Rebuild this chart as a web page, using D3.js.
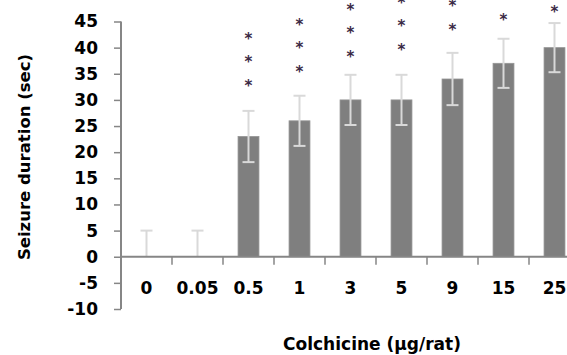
<!DOCTYPE html>
<html>
<head>
<meta charset="utf-8">
<script src="https://cdn.jsdelivr.net/npm/d3@7.9.0/dist/d3.min.js"></script>
<style>
  body { margin: 0; background: #fff; overflow: hidden; }
  svg { display: block; font-family: "DejaVu Sans", sans-serif; }
</style>
</head>
<body>
<div id="chart"></div>
<script>
// doses and mean seizure duration
const doses    = ['0', '0.05', '0.5', '1', '3', '5', '9', '15', '25'];
const means    = [0, 0, 23, 26, 30, 30, 34, 37, 40];
const errors   = [5, 5, 4.9, 4.8, 4.8, 4.8, 5, 4.7, 4.7];
const stars    = [0, 0, 3, 3, 3, 3, 2, 1, 1];
const starBase = [0, 0, 33.3, 36, 38.8, 40.2, 44, 45.8, 47.4]; // value of lowest asterisk
const starStep = 4.5;
const yTicks   = [-10, -5, 0, 5, 10, 15, 20, 25, 30, 35, 40, 45];

const W = 567, H = 355;
const svg = d3.select('#chart').append('svg')
  .attr('width', W).attr('height', H);

//--- scales
const x = d3.scaleBand()
  .domain(doses)
  .range([121, 580])
  .paddingInner(0.59)
  .paddingOuter(0.295);

const y = d3.scaleLinear()
  .domain([-10, 45])
  .range([309, 21.5]);

const axisCol = '#868686';

//--- bars
svg.append('g').selectAll('rect')
  .data(doses)
  .join('rect')
    .attr('x', d => x(d))
    .attr('width', x.bandwidth())
    .attr('y', (d, i) => y(means[i]))
    .attr('height', (d, i) => y(0) - y(means[i]))
    .attr('fill', '#7f7f7f')
    .attr('stroke', '#959595')
    .attr('stroke-width', 0.8);

//--- error bars (lower part hidden when bar is zero)
const eb = svg.append('g')
  .attr('stroke', '#d9d9d9')
  .attr('stroke-width', 2);
const cx = d => x(d) + x.bandwidth() / 2;
doses.forEach((d, i) => {
  const top = means[i] + errors[i];
  const bot = means[i] === 0 ? 0 : means[i] - errors[i];
  eb.append('line')
    .attr('x1', cx(d)).attr('x2', cx(d))
    .attr('y1', y(top)).attr('y2', y(bot));
  eb.append('line')
    .attr('x1', cx(d) - 6).attr('x2', cx(d) + 6)
    .attr('y1', y(top)).attr('y2', y(top));
  if (means[i] !== 0) {
    eb.append('line')
      .attr('x1', cx(d) - 6).attr('x2', cx(d) + 6)
      .attr('y1', y(bot)).attr('y2', y(bot));
  }
});

//--- significance asterisks
const starData = doses.flatMap((d, i) =>
  d3.range(stars[i]).map(k => ({ dose: d, v: starBase[i] + k * starStep })));
svg.append('g').selectAll('text')
  .data(starData)
  .join('text')
    .attr('x', d => cx(d.dose))
    .attr('y', d => y(d.v) + 8)
    .attr('text-anchor', 'middle')
    .attr('font-size', 15)
    .attr('font-weight', 'bold')
    .attr('fill', '#3a2a45')
    .text('*');

//--- axes
const yAxis = svg.append('g')
  .attr('transform', 'translate(121,0)')
  .call(d3.axisLeft(y).tickValues(yTicks).tickSize(7).tickPadding(16)
    .tickFormat(d => String(d)));
yAxis.select('.domain').attr('stroke', axisCol).attr('stroke-width', 2)
  .attr('d', `M0,${y(45)}V${y(-10)}`);
yAxis.selectAll('.tick line').attr('stroke', axisCol).attr('stroke-width', 1.5);
yAxis.selectAll('.tick text')
  .attr('font-size', 17).attr('font-weight', 'bold').attr('fill', '#000')
  .attr('font-family', '"DejaVu Sans", sans-serif');

const xAxis = svg.append('g')
  .attr('transform', `translate(0,${y(0)})`)
  .call(d3.axisBottom(x).tickSize(0).tickPadding(25));
xAxis.select('.domain').attr('stroke', axisCol).attr('stroke-width', 2)
  .attr('d', `M121,0H580`);
xAxis.selectAll('.tick text')
  .attr('font-size', 17).attr('font-weight', 'bold').attr('fill', '#000')
  .attr('font-family', '"DejaVu Sans", sans-serif');

// category separators below the axis
const step = x.step();
svg.append('g').selectAll('line')
  .data(doses.slice(1))
  .join('line')
    .attr('x1', d => x(d) - x.paddingInner() * step / 2)
    .attr('x2', d => x(d) - x.paddingInner() * step / 2)
    .attr('y1', y(0)).attr('y2', y(0) + 8)
    .attr('stroke', axisCol).attr('stroke-width', 1.5);

//--- titles
svg.append('text')
  .attr('transform', `translate(30,157) rotate(-90)`)
  .attr('text-anchor', 'middle')
  .attr('font-size', 16.5)
  .attr('font-weight', 'bold')
  .text('Seizure duration (sec)');

svg.append('text')
  .attr('x', 372).attr('y', 350)
  .attr('text-anchor', 'middle')
  .attr('font-size', 17)
  .attr('font-weight', 'bold')
  .text('Colchicine (μg/rat)');
</script>
</body>
</html>
